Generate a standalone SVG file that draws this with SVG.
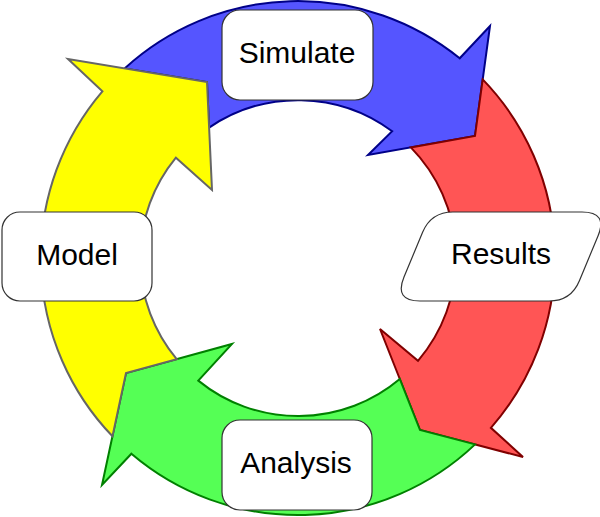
<svg xmlns="http://www.w3.org/2000/svg" width="600" height="517" viewBox="0 0 600 517">
  <style>
    .arrow { stroke-width: 2; stroke-linejoin: miter; }
    .blue { fill: #5555ff; stroke: #000088; }
    .red { fill: #ff5555; stroke: #800000; }
    .green { fill: #55ff55; stroke: #008000; }
    .yellow { fill: #ffff00; stroke: #666666; }
    .box { fill: #ffffff; stroke: #333333; stroke-width: 1.2; }
    .label { font-family: "Liberation Sans", Arial, sans-serif; font-size: 30px; fill: #000000; text-anchor: middle; }
  </style>
  <rect width="600" height="517" fill="#ffffff"/>
  <g id="connectors">
    <path class="arrow blue" d="M 124.6,68.4 A 257 257 0 0 1 459.7,58.3 L 490,26 L 475,136 L 368,155 L 392.2,131.2 A 158 158 0 0 0 209.1,127.6 L 207,82 Z"/>
    <path class="arrow red" d="M 482.7,79.4 A 257 257 0 0 1 490.9,427.8 L 523,457 L 420,430 L 380,329 L 418,360.8 A 158 158 0 0 0 410.8,147.4 L 475,136 Z"/>
    <path class="arrow green" d="M 475.1,444.4 A 257 257 0 0 1 131.4,453.7 L 102,485 L 126,373 L 232,344 L 198.3,380.6 A 158 158 0 0 0 399.8,379 L 420,430 Z"/>
    <path class="arrow yellow" d="M 112.5,436.3 A 257 257 0 0 1 102.4,91.3 L 68,59 L 207,82 L 212,190 L 175.9,157.7 A 158 158 0 0 0 176.7,359.1 L 126,373 Z"/>
  </g>
  <g id="node-simulate">
    <rect class="box" x="222" y="10" width="151" height="90" rx="18" ry="18"/>
    <text class="label" x="297" y="63">Simulate</text>
  </g>
  <g id="node-results">
    <path class="box" d="M 453,212 L 582,212 Q 608,212 598,236 L 579.4,280.7 Q 571,301 549,301 L 420,301 Q 394,301 404,277 L 422.6,232.3 Q 431,212 453,212 Z"/>
    <text class="label" x="501" y="264">Results</text>
  </g>
  <g id="node-analysis">
    <rect class="box" x="222" y="420" width="150" height="90" rx="18" ry="18"/>
    <text class="label" x="296" y="473">Analysis</text>
  </g>
  <g id="node-model">
    <rect class="box" x="2" y="212" width="150" height="89" rx="18" ry="18"/>
    <text class="label" x="77" y="265">Model</text>
  </g>
</svg>
